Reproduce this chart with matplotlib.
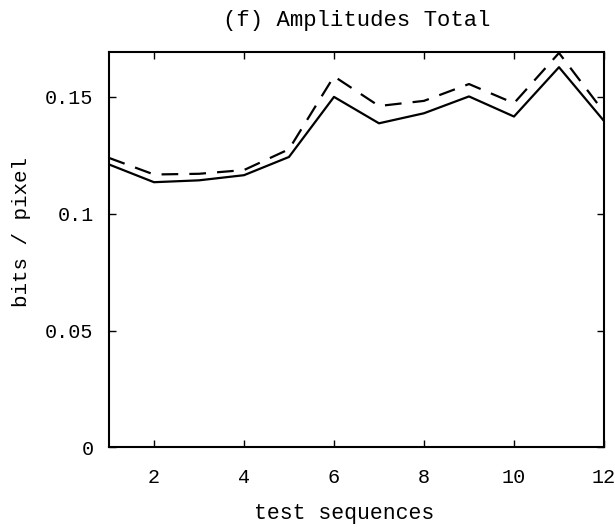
import matplotlib
matplotlib.use('Agg')
from matplotlib import pyplot as plt

# test sequences 1..12, two curves
seq = list(range(1, 13))
solid_vals = [0.1211, 0.1135, 0.1143, 0.1165, 0.1243, 0.1500, 0.1387, 0.1430, 0.1502, 0.1416, 0.1627, 0.1397]
dashed_vals = [0.1239, 0.1168, 0.1171, 0.1187, 0.1276, 0.1588, 0.1461, 0.1483, 0.1555, 0.1473, 0.1688, 0.1435]
x_ticks = [2, 4, 6, 8, 10, 12]
y_ticks = [0, 0.05, 0.1, 0.15]
y_tick_labels = ['0', '0.05', '0.1', '0.15']

plt.rcParams['font.family'] = ['Liberation Mono', 'DejaVu Sans Mono']
plt.rcParams['lines.scale_dashes'] = False

fig = plt.figure(figsize=(6.15, 5.27), dpi=100)
ax = fig.add_axes([0.1772, 0.1509, 0.8049, 0.7495])

ax.plot(seq, solid_vals, color='black', lw=1.6)
ax.plot(seq, dashed_vals, color='black', lw=1.6, dashes=(12, 8))

ax.set_xlim(1, 12)
ax.set_ylim(0, 0.169)
ax.set_xticks(x_ticks)
ax.set_yticks(y_ticks)
ax.set_yticklabels(y_tick_labels)
ax.tick_params(direction='in', top=True, right=True, length=5, width=1,
               labelsize=14.5)
ax.tick_params(axis='x', pad=15)
ax.tick_params(axis='y', pad=11)

for s in ax.spines.values():
    s.set_linewidth(1.5)

ax.set_title('(f) Amplitudes Total', fontsize=16, pad=19)
ax.set_xlabel('test sequences', fontsize=15.5)
ax.set_ylabel('bits / pixel', fontsize=15)
ax.xaxis.set_label_coords(0.475, -0.14)
ax.yaxis.set_label_coords(-0.158, 0.545)

plt.savefig('out.png', dpi=100)
